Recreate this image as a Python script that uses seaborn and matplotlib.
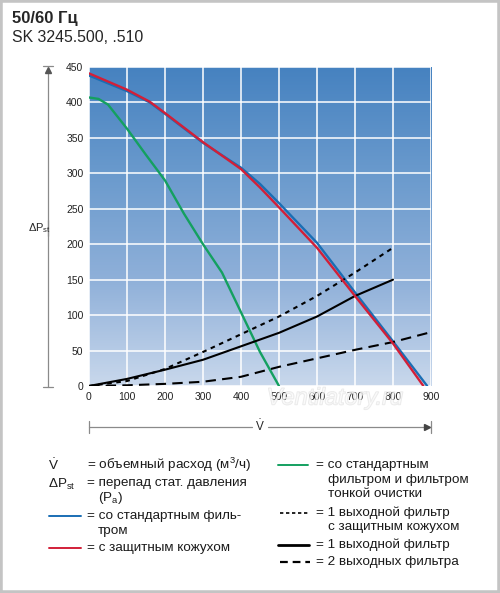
import matplotlib
matplotlib.use("Agg")
import matplotlib.pyplot as plt
import numpy as np
import pandas as pd
import seaborn as sns
from matplotlib.colors import LinearSegmentedColormap
from matplotlib.lines import Line2D
import matplotlib.patheffects as pe

sns.set_style("white")
plt.rcParams["font.family"] = ["Liberation Sans", "DejaVu Sans"]
plt.rcParams["mathtext.fontset"] = "custom"
plt.rcParams["mathtext.rm"] = "Liberation Sans"
plt.rcParams["mathtext.it"] = "Liberation Sans:italic"
plt.rcParams["mathtext.bf"] = "Liberation Sans:bold"

# flow values (m3/h) and static pressure (Pa)
blue_x = [0, 100, 160, 200, 300, 400, 450, 500, 600, 700, 800, 890]
blue_y = [438, 416, 400, 384, 343, 308, 285, 258, 202, 132, 63, 0]
red_x = [0, 100, 160, 200, 300, 400, 450, 500, 600, 700, 800, 880]
red_y = [441, 418, 401, 385, 344, 306, 280, 252, 195, 127, 60, 0]
green_x = [0, 25, 50, 100, 150, 200, 250, 300, 350, 400, 450, 500]
green_y = [407, 405, 397, 363, 326, 290, 243, 200, 160, 104, 48, 0]
dotted_x = [0, 100, 200, 300, 400, 500, 600, 700, 800]
dotted_y = [0, 7, 24, 48, 73, 98, 127, 160, 195]
solid_x = [0, 100, 200, 300, 400, 500, 600, 700, 800]
solid_y = [0, 10, 23, 37, 56, 75, 98, 127, 150]
dashed_x = [0, 100, 200, 300, 400, 500, 600, 700, 800, 900]
dashed_y = [0, 1, 3, 6, 13, 27, 39, 51, 62, 76]

x_ticks = [0, 100, 200, 300, 400, 500, 600, 700, 800, 900]
y_ticks = [0, 50, 100, 150, 200, 250, 300, 350, 400, 450]

W, H = 500, 593
fig = plt.figure(figsize=(W / 100, H / 100), dpi=100)
fig.patch.set_facecolor("white")

def fx(x):
    return x / W

def fy(y):
    return 1 - y / H

# plot area in pixels: left 89, right 431, top 67, bottom 386
ax = fig.add_axes([fx(89), fy(386), (431 - 89) / W, (386 - 67) / H])

# background gradient
cmap = LinearSegmentedColormap.from_list("bg", ["#c9d8ec", "#8fb0d9", "#6a9acd", "#4682c0"])
grad = np.linspace(0, 1, 256).reshape(-1, 1)
ax.imshow(grad, extent=[0, 900, 0, 450], aspect="auto", cmap=cmap, origin="lower", zorder=0)

for v in x_ticks:
    ax.axvline(v, color="white", lw=1.1, zorder=1)
for v in y_ticks:
    ax.axhline(v, color="white", lw=1.1, zorder=1)

sns.lineplot(x=blue_x, y=blue_y, ax=ax, color="#1a6eb4", lw=1.7, zorder=3)
sns.lineplot(x=red_x, y=red_y, ax=ax, color="#d21f38", lw=1.7, zorder=4)
sns.lineplot(x=green_x, y=green_y, ax=ax, color="#14a060", lw=1.7, zorder=3)
sns.lineplot(x=dotted_x, y=dotted_y, ax=ax, color="black", lw=1.5, zorder=3)
ax.lines[-1].set_dashes([2.2, 2.2])
sns.lineplot(x=solid_x, y=solid_y, ax=ax, color="black", lw=1.5, zorder=3)
sns.lineplot(x=dashed_x, y=dashed_y, ax=ax, color="black", lw=1.5, zorder=3)
ax.lines[-1].set_dashes([5, 3])

ax.set_xlim(0, 900)
ax.set_ylim(0, 450)
ax.set_xticks(x_ticks)
ax.set_yticks(y_ticks)
ax.tick_params(length=0, labelsize=7.5, colors="#222222", pad=4)
for s in ax.spines.values():
    s.set_visible(False)
ax.set_xlabel("")
ax.set_ylabel("")

# faint watermark (sits behind the tick labels like in the original)
fig.text(fx(335), fy(398), "Ventilatory.ru", fontsize=17, style="italic", color="white",
         alpha=0.45, ha="center", va="center", zorder=0,
         path_effects=[pe.withStroke(linewidth=1.0, foreground="#d0d0d0")])

# titles
fig.text(fx(12), fy(18), "50/60 Гц", fontsize=12, fontweight="bold", va="center", ha="left")
fig.text(fx(12), fy(37), "SK 3245.500, .510", fontsize=11.4, va="center", ha="left")

gray = "#8a8a8a"
# y-axis arrow
fig.add_artist(Line2D([fx(48), fx(48)], [fy(387), fy(220)], color=gray, lw=0.9))
fig.add_artist(Line2D([fx(48), fx(48)], [fy(236), fy(72)], color=gray, lw=0.9))
fig.add_artist(Line2D([fx(43), fx(53)], [fy(387), fy(387)], color=gray, lw=0.9))
fig.add_artist(Line2D([fx(43), fx(53)], [fy(66), fy(66)], color=gray, lw=0.9))
fig.add_artist(Line2D([fx(48)], [fy(70)], marker="^", color="#555555", markersize=4, lw=0))
fig.text(fx(40), fy(228), r"ΔP$_{\mathrm{st}}$", fontsize=8, ha="center", va="center")

# x-axis arrow
fig.add_artist(Line2D([fx(89), fx(252)], [fy(427), fy(427)], color=gray, lw=0.9))
fig.add_artist(Line2D([fx(268), fx(428)], [fy(427), fy(427)], color=gray, lw=0.9))
fig.add_artist(Line2D([fx(89), fx(89)], [fy(421), fy(433)], color=gray, lw=0.9))
fig.add_artist(Line2D([fx(431), fx(431)], [fy(421), fy(433)], color=gray, lw=0.9))
fig.add_artist(Line2D([fx(427)], [fy(427)], marker=">", color="#444444", markersize=4, lw=0))
fig.text(fx(260), fy(426), r"$\dot{\mathrm{V}}$", fontsize=8.5, ha="center", va="center")

# legend block
fs = 9.7
def t(x, y, s):
    fig.text(fx(x), fy(y), s, fontsize=fs, ha="left", va="center", color="#1a1a1a")

def key(x0, x1, y, color, dashes=None, lw=1.4):
    ln = Line2D([fx(x0), fx(x1)], [fy(y), fy(y)], color=color, lw=lw)
    if dashes:
        ln.set_dashes(dashes)
    fig.add_artist(ln)

t(48, 465, r"$\dot{\mathrm{V}}$")
t(87, 465, r"= объемный расход (м$^{3}$/ч)")
t(48, 484, r"ΔP$_{\mathrm{st}}$")
t(87, 483, "= перепад стат. давления")
t(98, 498, r"(P$_{\mathrm{a}}$)")
key(49, 81, 516, "#1a6eb4")
t(87, 516, "= со стандартным филь-")
t(98, 531, "тром")
key(49, 81, 548, "#d21f38")
t(87, 548, "= с защитным кожухом")

key(278, 308, 465, "#14a060")
t(316, 465, "= со стандартным")
t(328, 480, "фильтром и фильтром")
t(328, 494, "тонкой очистки")
key(280, 310, 513, "black", dashes=[2, 1.6], lw=1.2)
t(316, 513, "= 1 выходной фильтр")
t(328, 527, "с защитным кожухом")
key(278, 309, 545, "black", lw=2.0)
t(316, 545, "= 1 выходной фильтр")
key(280, 310, 562, "black", dashes=[3.5, 2.2], lw=1.6)
t(316, 562, "= 2 выходных фильтра")

# gray frame around the picture
frame = plt.Rectangle((0, 0), 1, 1, transform=fig.transFigure, fill=False,
                      edgecolor="#c4c4c4", lw=4)
fig.add_artist(frame)

fig.savefig("out.png", dpi=100)
